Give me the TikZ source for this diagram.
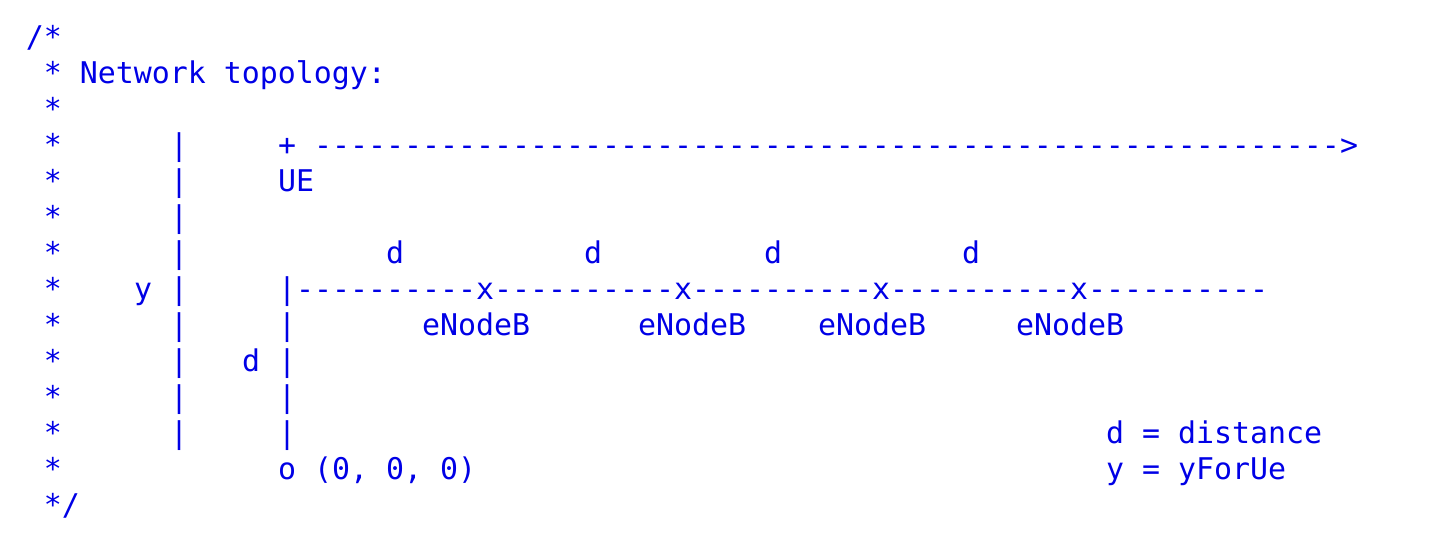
\documentclass[tikz,border=0pt]{standalone}
\usepackage{fontspec}
\setmonofont{DejaVu Sans Mono}
\definecolor{commentblue}{RGB}{0,0,230}
\newcommand{\dashrun}[1]{\foreach \k in {1,...,#1}{-}}

\begin{document}
\begin{tikzpicture}[x=9pt, y=-18pt,
  ascii/.style={anchor=base west, inner sep=0pt, outer sep=0pt, text=commentblue,
    font=\ttfamily\fontsize{14.95}{18}\selectfont}]
  \useasboundingbox (-13pt,23.5pt) rectangle (709pt,-252.5pt);

  % comment frame
  \node[ascii] (open) at (0,0) {/*};
  \foreach \r in {1,...,12}
    \node[ascii] (star\r) at (1,\r) {*};
  \node[ascii] (close) at (1,13) {*/};
  \node[ascii] (title) at (3,1) {Network topology:};

  % y axis
  \foreach \r in {3,...,11}
    \node[ascii] (yaxis\r) at (8,\r) {|};
  \node[ascii] (ylabel) at (6,7) {y};

  % UE path
  \node[ascii] (start) at (14,3) {+};
  \node[ascii] (path) at (16,3) {\dashrun{57}};
  \node[ascii] (tip) at (73,3) {>};
  \node[ascii] (ue) at (14,4) {UE};

  % eNodeB row
  \node[ascii] (left) at (14,7) {|};
  \foreach \i [evaluate=\i as \c using int(25+11*(\i-1))] in {1,...,4} {
    \node[ascii] (seg\i) at (\c-10,7) {\dashrun{10}};
    \node[ascii] (enb\i) at (\c,7) {x};
  }
  \node[ascii] (seg5) at (59,7) {\dashrun{10}};
  \foreach \c/\k in {20/1,31/2,41/3,52/4}
    \node[ascii] (d\k) at (\c,6) {d};
  \foreach \c/\k in {22/1,34/2,44/3,55/4}
    \node[ascii] (name\k) at (\c,8) {eNodeB};

  % offset d
  \foreach \r in {8,...,11}
    \node[ascii] (bar\r) at (14,\r) {|};
  \node[ascii] (dlabel) at (12,9) {d};

  % origin and legend
  \node[ascii] (origin) at (14,12) {o (0, 0, 0)};
  \node[ascii] (legd) at (60,11) {d = distance};
  \node[ascii] (legy) at (60,12) {y = yForUe};
\end{tikzpicture}
\end{document}
